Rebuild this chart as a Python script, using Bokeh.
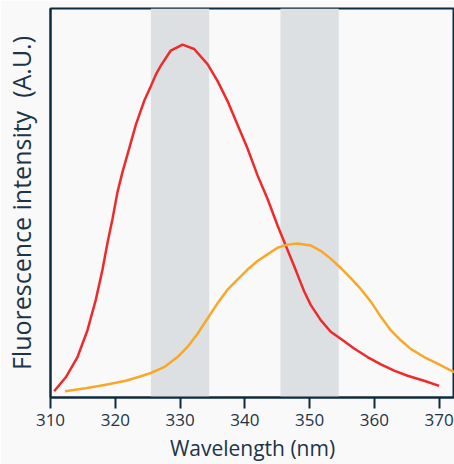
from bokeh.plotting import figure
from bokeh.models import Range1d, BoxAnnotation, FixedTicker
from bokeh.embed import file_html
from bokeh.resources import INLINE

# Data (wavelength in nm, intensity in arbitrary units 0-100)
red_x = [310.56, 312.36, 314.17, 315.71, 316.99, 318.03, 318.80, 319.57, 320.34, 321.12,
         322.14, 323.17, 324.45, 325.49, 326.26, 327.03, 328.57, 330.38, 332.17, 334.24,
         335.78, 337.33, 338.87, 340.42, 341.96, 343.50, 345.05, 346.33, 347.61, 348.65,
         349.15, 350.17, 351.72, 353.26, 354.80, 356.87, 358.94, 361.00, 363.05, 365.12,
         367.68, 370.00]
red_y = [1.6, 5.2, 10.4, 17.3, 25.1, 32.9, 39.8, 45.9, 52.8, 58.0,
         64.0, 70.1, 76.2, 80.0, 83.0, 85.3, 89.2, 90.7, 89.6, 85.7,
         81.4, 76.2, 70.1, 64.0, 57.1, 51.1, 44.2, 39.0, 33.8, 29.4,
         27.3, 23.8, 19.9, 16.9, 15.1, 12.6, 10.4, 8.5, 6.9, 5.6,
         4.3, 3.0]

orange_x = [312.25, 315.45, 318.54, 321.63, 324.20, 325.49, 327.54, 329.61, 331.15, 332.70,
            334.24, 335.78, 337.33, 338.87, 340.42, 341.96, 343.50, 345.05, 346.59, 348.13,
            350.17, 351.72, 353.26, 354.80, 356.35, 357.89, 359.43, 360.98, 362.52, 364.07,
            365.61, 367.68, 369.75, 372.31]
orange_y = [1.6, 2.4, 3.3, 4.3, 5.6, 6.3, 7.8, 10.4, 13.0, 16.4,
            20.3, 24.2, 27.7, 30.3, 32.9, 35.1, 36.8, 38.5, 39.3, 39.6,
            39.1, 37.7, 35.7, 33.3, 30.7, 27.9, 24.7, 20.8, 17.3, 14.7,
            12.5, 10.4, 8.7, 6.5]

bands = [(325.5, 334.5), (345.5, 354.5)]
x_ticks = [310, 320, 330, 340, 350, 360, 370]

FONT = "Open Sans"
DARK = "#0f2b40"
TEXT = "#1c3448"
BG = "#f9f9f9"

p = figure(width=454, height=464, output_backend="svg", toolbar_location=None,
           x_range=Range1d(310, 372.37), y_range=Range1d(0, 100),
           min_border_left=50, min_border_right=0, min_border_top=8, min_border_bottom=0)

p.background_fill_color = BG
p.border_fill_color = BG
p.outline_line_color = DARK
p.outline_line_width = 2
p.grid.visible = False

for a, b in bands:
    p.add_layout(BoxAnnotation(left=a, right=b, fill_color="#dde0e3", fill_alpha=1.0,
                               line_color=None, level="underlay"))

p.line(red_x, red_y, line_color="#ee2a2a", line_width=2.5, line_join="round")
p.line(orange_x, orange_y, line_color="#f8a828", line_width=2.5, line_join="round")

xa = p.xaxis[0]
xa.ticker = FixedTicker(ticks=x_ticks)
xa.axis_line_color = DARK
xa.axis_line_width = 2
xa.major_tick_line_color = DARK
xa.major_tick_line_width = 2
xa.major_tick_in = 0
xa.major_tick_out = 11
xa.minor_tick_line_color = None
xa.major_label_text_font = FONT
xa.major_label_text_font_size = "17px"
xa.major_label_text_color = TEXT
xa.major_label_standoff = 5
xa.axis_label = "Wavelength (nm)"
xa.axis_label_text_font = FONT
xa.axis_label_text_font_size = "21px"
xa.axis_label_text_font_style = "normal"
xa.axis_label_text_color = TEXT
xa.axis_label_standoff = 5

ya = p.yaxis[0]
ya.axis_line_color = DARK
ya.axis_line_width = 2
ya.major_tick_line_color = None
ya.major_tick_out = 0
ya.major_tick_in = 0
ya.minor_tick_line_color = None
ya.major_label_text_font_size = "0px"
ya.major_label_text_color = None
ya.major_label_standoff = 0
ya.axis_label = "Fluorescence intensity\u00a0 (A.U.)"
ya.axis_label_text_font = FONT
ya.axis_label_text_font_size = "25px"
ya.axis_label_text_font_style = "normal"
ya.axis_label_text_color = TEXT
ya.axis_label_standoff = 9

open("out.html", "w").write(file_html(p, INLINE))
